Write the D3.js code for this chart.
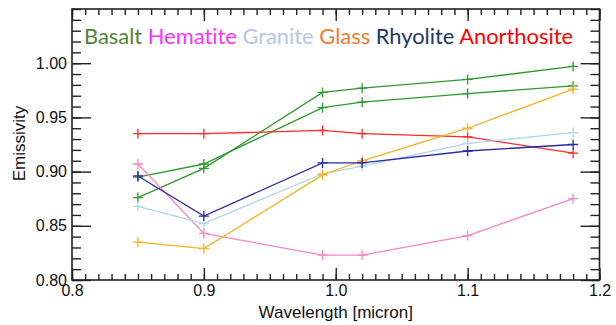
<!DOCTYPE html>
<html>
<head>
<meta charset="utf-8">
<script src="https://cdn.jsdelivr.net/npm/d3@7/dist/d3.min.js"></script>
<style>
  html, body { margin: 0; padding: 0; background: #fff; }
  svg { display: block; }
  .tick text { font-family: "Liberation Sans", Arial, sans-serif; font-size: 16px; fill: #111; }
  .axis-title { font-family: "Liberation Sans", Arial, sans-serif; font-size: 17px; fill: #111; }
  .legend { font-family: Lato, "Open Sans", sans-serif; font-size: 21px; font-variant-ligatures: none; }
</style>
</head>
<body>
<div id="chart"></div>
<script>
// ── Data ─────────────────────────────────────────────────────────────────────
const wavelengths = [0.85, 0.90, 0.99, 1.02, 1.10, 1.18];

const basaltA     = [0.876, 0.903, 0.973, 0.977, 0.985, 0.997];
const basaltB     = [0.895, 0.907, 0.959, 0.964, 0.972, 0.979];
const hematite    = [0.907, 0.843, 0.823, 0.823, 0.841, 0.875];
const granite     = [0.868, 0.852, 0.898, 0.905, 0.926, 0.936];
const glass       = [0.835, 0.829, 0.897, 0.910, 0.940, 0.976];
const rhyolite    = [0.896, 0.859, 0.908, 0.908, 0.919, 0.925];
const anorthosite = [0.935, 0.935, 0.938, 0.935, 0.932, 0.917];

const legendNames  = ["Basalt", "Hematite", "Granite", "Glass", "Rhyolite", "Anorthosite"];
const legendColors = ["#548235", "#ff33ff", "#b4c7e7", "#ed7d31", "#203864", "#ff0000"];

const xTickValues = [0.8, 0.9, 1.0, 1.1, 1.2];
const yTickValues = [0.80, 0.85, 0.90, 0.95, 1.00];

// line series drawn in the plot (colour per curve)
const series = [
  { name: "Basalt",      values: basaltA,     color: "#2e9a2e" },
  { name: "Basalt",      values: basaltB,     color: "#2e9a2e" },
  { name: "Anorthosite", values: anorthosite, color: "#ff2a2a" },
  { name: "Hematite",    values: hematite,    color: "#ff85c2" },
  { name: "Granite",     values: granite,     color: "#add8e6" },
  { name: "Glass",       values: glass,       color: "#ffb020" },
  { name: "Rhyolite",    values: rhyolite,    color: "#2a2aa5" },
];

// ── Layout ───────────────────────────────────────────────────────────────────
const width = 616, height = 325;
const plot = { left: 72, right: 599.5, top: 9, bottom: 280 };

const svg = d3.select("#chart").append("svg")
  .attr("width", width)
  .attr("height", height);

const x = d3.scaleLinear().domain([0.8, 1.2]).range([plot.left, plot.right]);
const y = d3.scaleLinear().domain([0.8, 1.05]).range([plot.bottom, plot.top]);

const xMinor = d3.range(80, 121).map(d => d / 100);
const yMinor = d3.range(80, 106).map(d => d / 100);

// ── Axes (ticks point inward on all four sides)
function addAxis(axis, tx, ty) {
  const g = svg.append("g").attr("transform", `translate(${tx},${ty})`).call(axis);
  g.select(".domain").remove();
  g.selectAll(".tick line").attr("stroke", "#222").attr("stroke-width", 1.4);
  return g;
}

addAxis(d3.axisBottom(x).tickValues(xMinor).tickSize(-6).tickFormat(""), 0, plot.bottom);
addAxis(d3.axisBottom(x).tickValues(xTickValues).tickSize(-12).tickPadding(5)
  .tickFormat(d3.format(".1f")), 0, plot.bottom);
addAxis(d3.axisTop(x).tickValues(xMinor).tickSize(-6).tickFormat(""), 0, plot.top);
addAxis(d3.axisTop(x).tickValues(xTickValues).tickSize(-12).tickFormat(""), 0, plot.top);

addAxis(d3.axisLeft(y).tickValues(yMinor).tickSize(-9).tickFormat(""), plot.left, 0);
addAxis(d3.axisLeft(y).tickValues(yTickValues).tickSize(-19).tickPadding(5)
  .tickFormat(d3.format(".2f")), plot.left, 0);
addAxis(d3.axisRight(y).tickValues(yMinor).tickSize(-9).tickFormat(""), plot.right, 0);
addAxis(d3.axisRight(y).tickValues(yTickValues).tickSize(-19).tickFormat(""), plot.right, 0);

// frame
svg.append("rect")
  .attr("x", plot.left).attr("y", plot.top)
  .attr("width", plot.right - plot.left).attr("height", plot.bottom - plot.top)
  .attr("fill", "none").attr("stroke", "#222").attr("stroke-width", 1.6);

// ── Axis titles
svg.append("text").attr("class", "axis-title")
  .attr("x", (plot.left + plot.right) / 2).attr("y", 318)
  .attr("text-anchor", "middle")
  .text("Wavelength [micron]");

svg.append("text").attr("class", "axis-title")
  .attr("transform", `translate(25,${(plot.top + plot.bottom) / 2 - 1}) rotate(-90)`)
  .attr("text-anchor", "middle")
  .text("Emissivity");

// ── Lines + plus markers
const line = d3.line()
  .x((d, i) => x(wavelengths[i]))
  .y(d => y(d));

const plotG = svg.append("g");
series.forEach(s => {
  plotG.append("path")
    .attr("d", line(s.values))
    .attr("fill", "none")
    .attr("stroke", s.color)
    .attr("stroke-width", 1.3);

  const m = 5;
  plotG.append("g").selectAll("path")
    .data(s.values)
    .join("path")
    .attr("d", (d, i) => {
      const cx = x(wavelengths[i]), cy = y(d);
      return `M${cx - m},${cy}H${cx + m}M${cx},${cy - m}V${cy + m}`;
    })
    .attr("stroke", s.color)
    .attr("stroke-width", 1.3);
});

// ── Legend (coloured words in one row)
const legend = svg.append("text").attr("class", "legend")
  .attr("x", 84).attr("y", 44)
  .attr("textLength", 489)
  .attr("lengthAdjust", "spacingAndGlyphs");

legend.selectAll("tspan")
  .data(legendNames)
  .join("tspan")
  .attr("fill", (d, i) => legendColors[i])
  .text((d, i) => (i < legendNames.length - 1 ? d + " " : d));
</script>
</body>
</html>
